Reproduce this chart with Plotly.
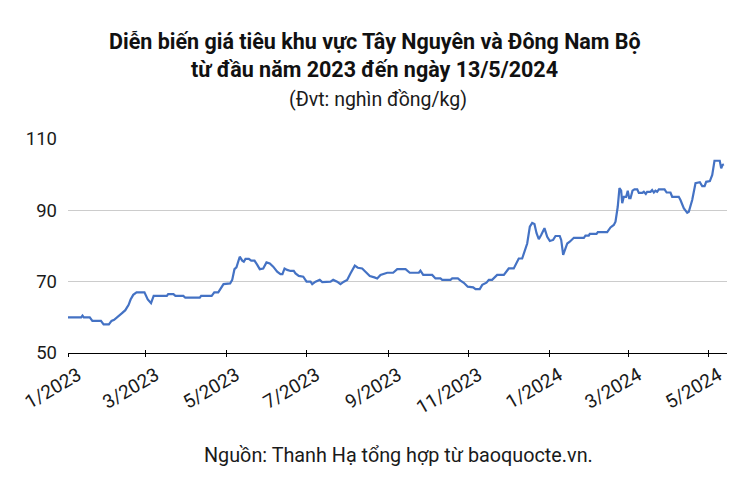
import pandas as pd
import plotly.graph_objects as go

# Days since 1/1/2023 and price (nghìn đồng/kg)
day_index = [0, 10, 11, 12, 16.5, 18.5, 25, 27, 31, 33, 35, 37, 38.5, 41, 43.5, 46, 47.5, 49.5, 52, 58,
             60.5, 63, 65, 75, 76, 80, 81.5, 87.5, 89, 100, 101, 109, 111, 114, 118,
             123, 124.6, 126.3, 127.8, 130.3, 132.2, 133.4, 134.7, 137.2, 139, 141.5, 143.6, 145.5,
             148.1, 150.6, 153.1, 155.7, 158.7, 161.2, 162.7, 164.3, 166.3, 168.8, 171.3, 172.6,
             175.1, 178.5, 181, 184, 185.3, 187.8, 191, 192.9, 199.2, 201.2, 204.2, 206.7, 209.3,
             211.8, 214.3, 217.6, 219.9, 223.2, 225.7, 229, 232.5, 234.6, 237.1, 240.9,
             242.2, 246.7, 249.8, 256.1, 259.3, 266.2, 267.4, 269.5, 276.3, 278.8, 282.6, 283.9,
             290.2, 291.5, 295.8, 297.8, 300.3, 303.3, 307.4, 309.2, 312.4, 314.3, 317.5, 319.3,
             321.8, 325.6, 330.7, 334.4, 338.2, 342, 344.6, 348.4, 350.4, 352.2, 353.9, 355.5,
             357.2, 359, 361.5, 363.6, 365.6, 368.1, 369.9, 373.1, 374.2, 375.7, 377.5, 378.8,
             380.7, 383.8, 391.4, 392.6, 395.1, 395.9, 401, 402, 409.1, 411.6, 414.1, 415.4,
             417.1, 418.4, 419.7, 420.5, 421.7, 423.5, 424.7, 425.8, 426.8, 428.3, 429.8, 431.9,
             433.1, 435.7, 436.9, 438.4, 439.4, 442, 443.2, 444.5, 445.7, 447, 448.3, 452.6,
             454.2, 457.1, 458.4, 463.4, 464.7, 467.2, 469.8, 471, 473.6, 476.1, 479.4, 481.2,
             483, 484.2, 487, 488.8, 490.5, 494.5, 495.6, 496.6, 497.6]
price = [60, 60, 60.5, 60, 60, 59, 59, 58, 58, 59, 59.3, 60, 60.6, 61.2, 62, 63.5, 65, 66.3, 67, 67,
         65, 64, 66, 66, 66.5, 66.5, 66, 66, 65.5, 65.5, 66, 66, 67, 67, 69.3,
         69.5, 70.5, 73.5, 74, 77, 75.9, 75.6, 76.4, 76.4, 75.9, 75.9, 74.7, 73.5,
         73.7, 75.4, 75.1, 74.2, 72.8, 72.1, 72.1, 73.7, 73.3, 73, 73, 72.3,
         71.6, 71.4, 70, 70, 69.3, 70, 70.5, 69.9, 70, 70.5, 70, 69.3, 70,
         70.5, 72.3, 74.5, 73.9, 73.7, 72.8, 71.6, 71.2, 70.9, 71.9, 72.3,
         72.5, 72.5, 73.5, 73.5, 72.5, 72.5, 73.1, 71.9, 71.9, 70.9, 70.9, 70.5,
         70.5, 70.9, 70.9, 70.3, 69.7, 68.6, 68.4, 67.9, 67.9, 69.1, 69.7, 70.5,
         70.5, 71.9, 71.9, 73.7, 73.7, 76.5, 76.5, 80.7, 85.4, 86.5, 86.2, 83.6,
         81.9, 83.1, 85, 82.6, 81.4, 81.7, 82.8, 82.8, 81.7, 77.5, 79.3, 80.7,
         81.2, 82.3, 82.3, 82.9, 82.9, 83.4, 83.4, 83.9, 83.9, 85.2, 85.9, 86.8,
         91, 96.2, 95.5, 92, 93.8, 93.8, 95.5, 93.4, 93.4, 95.5, 95.9, 95.9,
         94.9, 94.9, 95.2, 94.6, 95.2, 95.2, 95.7, 95, 95.5, 95.2, 95.9, 95.9,
         95, 95, 93.8, 93.8, 92.9, 90.6, 89.3, 89.6, 92.9, 97.6, 97.9, 96.8,
         96.8, 98, 98.2, 99.9, 103.9, 103.9, 101.8, 102.7, 102.9]

tick_dates = ["2023-01-01", "2023-03-01", "2023-05-01", "2023-07-01", "2023-09-01",
              "2023-11-01", "2024-01-01", "2024-03-01", "2024-05-01"]
tick_labels = ["1/2023", "3/2023", "5/2023", "7/2023", "9/2023",
               "11/2023", "1/2024", "3/2024", "5/2024"]
y_ticks = [50, 70, 90, 110]

dates = pd.Timestamp("2023-01-01") + pd.to_timedelta(day_index, unit="D")

FONT = "Roboto, Arial, sans-serif"
x_range = ["2023-01-01", "2024-05-15"]

# page has an 8px body margin; figure sized to fit the 752x493 window
OFF = 8
W, H = 752 - OFF, 493 - OFF
ML, MR, MT, MB = 68 - OFF, 25, 139 - OFF, 140
plot_w = W - ML - MR
plot_h = H - MT - MB


def xpaper(px):
    return (px - OFF - ML) / plot_w


def ypaper(py):
    return (H - MB - (py - OFF)) / plot_h


fig = go.Figure()
fig.add_trace(go.Scatter(x=dates, y=price, mode="lines",
                         line=dict(color="#4472C4", width=2.2), hoverinfo="x+y"))
fig.add_trace(go.Scatter(x=[dates[0]], y=[price[0]], xaxis="x2", mode="lines",
                         line=dict(width=0), showlegend=False, hoverinfo="skip"))

fig.update_layout(
    width=W, height=H,
    margin=dict(l=ML, r=MR, t=MT, b=MB, autoexpand=False),
    plot_bgcolor="white", paper_bgcolor="white",
    showlegend=False,
    font=dict(family=FONT, color="#1a1a1a"),
    xaxis=dict(type="date", range=x_range, tickvals=tick_dates, ticktext=tick_labels,
               tickangle=-30, tickfont=dict(size=19, color="#1a1a1a"),
               ticklabelshift=10,
               showgrid=False, showline=True, linecolor="black", linewidth=1,
               ticks="outside", ticklen=3, tickcolor="black", zeroline=False),
    xaxis2=dict(type="date", range=x_range, tickvals=tick_dates, ticktext=[""] * len(tick_dates),
                overlaying="x", matches="x", showgrid=False, showline=False,
                ticks="inside", ticklen=3, tickcolor="black", showticklabels=False),
    yaxis=dict(range=[50, 110], tickvals=y_ticks, tickfont=dict(size=18.5, color="#1a1a1a"),
               showgrid=True, gridcolor="#cccccc", gridwidth=1, zeroline=False,
               showline=False, ticks="", ticklabelstandoff=10),
)

fig.add_annotation(text="<b>Diễn biến giá tiêu khu vực Tây Nguyên và Đông Nam Bộ</b>",
                   x=xpaper(375), y=ypaper(42), xref="paper", yref="paper",
                   xanchor="center", yanchor="middle", showarrow=False,
                   font=dict(size=21.5, color="#111111", family=FONT))
fig.add_annotation(text="<b>từ đầu năm 2023 đến ngày 13/5/2024</b>",
                   x=xpaper(374), y=ypaper(69), xref="paper", yref="paper",
                   xanchor="center", yanchor="middle", showarrow=False,
                   font=dict(size=21.5, color="#111111", family=FONT))
fig.add_annotation(text="(Đvt: nghìn đồng/kg)",
                   x=xpaper(378), y=ypaper(99), xref="paper", yref="paper",
                   xanchor="center", yanchor="middle", showarrow=False,
                   font=dict(size=19.5, color="#1a1a1a", family=FONT))
fig.add_annotation(text="Nguồn: Thanh Hạ tổng hợp từ baoquocte.vn.",
                   x=xpaper(398), y=ypaper(455), xref="paper", yref="paper",
                   xanchor="center", yanchor="middle", showarrow=False,
                   font=dict(size=19.8, color="#1a1a1a", family=FONT))

fig.write_html("out.html")
